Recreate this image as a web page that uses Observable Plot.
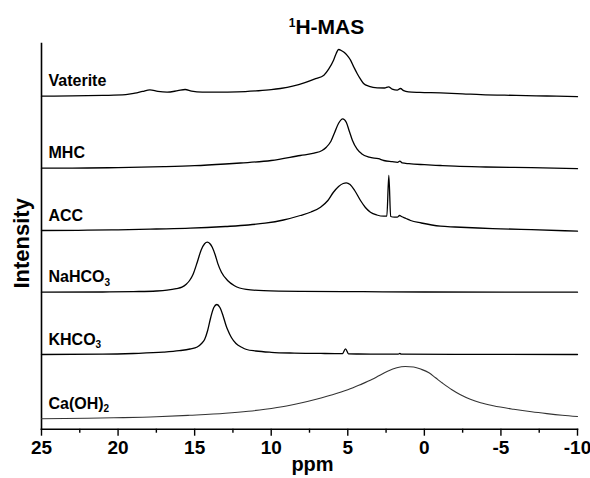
<!DOCTYPE html>
<html>
<head>
<meta charset="utf-8">
<script src="https://cdn.jsdelivr.net/npm/d3@7"></script>
<script src="https://cdn.jsdelivr.net/npm/@observablehq/plot@0.6"></script>
<style>
  html, body { margin: 0; padding: 0; background: #fff; }
  #chart svg { display: block; }
</style>
</head>
<body>
<div id="chart"></div>
<script>
// ---- Data ----
const ppmTicks = [25, 20, 15, 10, 5, 0, -5, -10];
const minorTicks = [22.5, 17.5, 12.5, 7.5, 2.5, -2.5, -7.5];
const samples = ["Ca(OH)2", "KHCO3", "NaHCO3", "ACC", "MHC", "Vaterite"];
// vertical stacking offsets (a.u.)
const offsets = [0, 64.3, 126.6, 188.3, 250.6, 322.6];

// [ppm, intensity a.u.]
const vateriteSpectrum = [[25,0],[23,0.3],[21,0.8],[19.5,1.5],[18.9,3],[18.4,4.8],[17.92,6.4],[17.4,4.8],[16.8,4],[16.1,5.5],[15.62,6.7],[15.2,5],[14.5,4],[13.5,4],[12.2,4.3],[11,5.3],[10,6.5],[9.4,7.7],[8.6,10],[7.8,13.5],[7.1,17.5],[6.56,21],[6.25,27],[5.93,36],[5.75,43],[5.6,46.7],[5.4,45.5],[5.15,42.7],[4.95,39],[4.82,36],[4.6,29],[4.39,22.7],[4.17,17],[3.97,12.7],[3.6,9.8],[3.08,8.3],[2.6,8.2],[2.34,9.3],[2.1,7],[1.77,6],[1.56,7.7],[1.35,5.5],[1.04,4.3],[0.3,3.8],[-1.05,3.3],[-2.5,2.4],[-3.7,1.5],[-6,0.8],[-8,0.2],[-10,-0.5]];
const mhcSpectrum = [[25,0],[22,0.2],[20,0.6],[17,1.5],[15,2.5],[13,4.2],[12,5.2],[10,7.7],[8.1,12.7],[7.2,15],[6.68,17.7],[6.4,21],[6.1,27],[5.85,36],[5.6,45],[5.33,49.4],[5.1,46],[4.9,37],[4.7,28],[4.39,19],[4.1,14.5],[3.6,11],[3.0,9.5],[2.65,7.7],[2.1,6.5],[1.75,5.8],[1.6,7],[1.45,5.3],[1.0,4.5],[0,3.5],[-1.05,2.7],[-2,2],[-4,1.2],[-7,0.5],[-10,-0.5]];
const accSpectrum = [[25,0],[22,0.3],[20,0.7],[17.5,1.5],[15.3,2.3],[13,4],[11.5,5.5],[10.4,7.3],[9.2,10.5],[8.1,15],[7.4,18.5],[6.78,23.3],[6.3,30],[5.95,38],[5.6,44],[5.3,47],[5.1,47.7],[4.85,46],[4.55,40],[4.17,30],[3.85,23],[3.52,18.3],[3.1,15.5],[2.65,14.3],[2.45,14.4],[2.32,55],[2.2,14],[1.95,13.3],[1.77,13.3],[1.62,15],[1.5,14],[1.2,12],[0.9,10],[0.2,7.5],[-1.05,4.3],[-2,3.5],[-3.5,2.5],[-5,1.7],[-7,0.8],[-10,-0.7]];
const nahco3Spectrum = [[25,0],[21,0.2],[19,0.6],[17.5,1.2],[16.8,2],[16.2,3.5],[15.83,5],[15.55,8],[15.33,11.7],[15.1,18],[14.83,30],[14.58,42],[14.35,48.5],[14.17,50],[14.0,48.5],[13.85,45],[13.65,37],[13.48,28.3],[13.25,20],[12.85,11.7],[12.4,6.5],[11.63,2.8],[10.5,1.5],[8,0.8],[4,0.5],[0,0.2],[-10,0]];
const khco3Spectrum = [[25,0],[21,0.3],[19,1],[17.05,2.3],[16,3.8],[15.3,5.5],[14.83,7.5],[14.55,11],[14.35,15],[14.15,24],[13.95,37],[13.75,47],[13.55,50],[13.35,47],[13.15,39],[12.95,29],[12.85,25],[12.6,17],[12.3,11],[11.9,7],[11.6,5],[11,3.5],[10,2.2],[8.5,1.4],[6.5,1],[5.35,0.9],[5.15,5.7],[4.95,0.6],[4.3,0.5],[2.5,0.4],[1.7,0.4],[1.6,1],[1.5,0.3],[-2,0.2],[-10,0]];
const caoh2Spectrum = [[25,0],[22,0.5],[20.27,1],[17.5,2],[15.33,3.5],[13,5.5],[11.5,7.5],[10.4,9.5],[9,12.8],[8,16],[7,19.8],[6,24],[5,29],[4.2,34],[3.4,39.5],[2.97,43],[2.4,47.5],[1.8,51],[1.25,52.3],[0.7,51.8],[0.2,49.5],[-0.3,46],[-0.73,41],[-1.2,35.5],[-1.8,29],[-2.36,24],[-3,19.5],[-3.67,16],[-4.5,13],[-5.84,9.5],[-7,7],[-8,5.2],[-9,3.6],[-10,2.3]];

const spectra = [caoh2Spectrum, khco3Spectrum, nahco3Spectrum, accSpectrum, mhcSpectrum, vateriteSpectrum];

// ---- Build table ----
const rows = samples.flatMap((s, i) =>
  spectra[i].map(([ppm, h]) => ({sample: s, ppm, y: offsets[i] + h}))
    .sort((a, b) => a.ppm - b.ppm));
const labels = samples.map((s, i) => ({sample: s, y: offsets[i]}));

const font = "'Liberation Sans', Arial, Helvetica, sans-serif";

const chart = Plot.plot({
  width: 590,
  height: 478,
  marginLeft: 41,
  marginRight: 13,
  marginTop: 43,
  marginBottom: 49.3,
  x: {domain: [25, -10], axis: null, label: null},
  y: {domain: [-10.4, 375.3], axis: null, label: null},
  style: {fontFamily: font, background: "white", color: "black", overflow: "visible"},
  marks: [
    Plot.axisX(minorTicks, {tickSize: 4, text: null, label: null, strokeWidth: 1.4}),
    Plot.axisX(ppmTicks, {tickSize: 7, tickPadding: 4, fontSize: 19, fontWeight: "bold", label: null, tickFormat: d => String(d), strokeWidth: 1.4}),
    Plot.frame({anchor: "left", strokeWidth: 1.6}),
    Plot.frame({anchor: "bottom", strokeWidth: 1.6}),
    Plot.line(rows.filter(d => d.sample !== "Ca(OH)2"), {x: "ppm", y: "y", z: "sample", curve: "monotone-x", stroke: "black", strokeWidth: 1.3}),
    Plot.line(rows.filter(d => d.sample === "Ca(OH)2"), {x: "ppm", y: "y", z: "sample", curve: "monotone-x", stroke: "#333", strokeWidth: 1.1}),
    Plot.text(labels, {x: () => 25, y: "y", text: "sample", textAnchor: "start", lineAnchor: "bottom", dx: 7, dy: -10, fontSize: 16, fontWeight: "bold"}),
    Plot.text(["1H-MAS"], {frameAnchor: "top", textAnchor: "middle", lineAnchor: "bottom", dx: 17, dy: -9.7, fontSize: 21, fontWeight: "bold"}),
    Plot.text(["ppm"], {frameAnchor: "bottom", textAnchor: "middle", lineAnchor: "bottom", dx: 3, dy: 42, fontSize: 20, fontWeight: "bold"}),
    Plot.text(["Intensity"], {frameAnchor: "left", textAnchor: "middle", rotate: -90, dx: -20, dy: 7, fontSize: 22, fontWeight: "bold"})
  ]
});

// rich text: sub/superscripts
const rich = {
  "1H-MAS": [["1", "sup"], ["H-MAS", ""]],
  "NaHCO3": [["NaHCO", ""], ["3", "sub"]],
  "KHCO3": [["KHCO", ""], ["3", "sub"]],
  "Ca(OH)2": [["Ca(OH)", ""], ["2", "sub"]]
};
d3.select(chart).selectAll("text").each(function() {
  const t = this.textContent;
  if (!rich[t]) return;
  const el = d3.select(this);
  el.text(null);
  let shift = 0;
  for (const [s, kind] of rich[t]) {
    const ts = el.append("tspan").text(s);
    if (kind === "sup") { ts.attr("font-size", 12).attr("dy", -6.6); shift = -6.6; }
    else if (kind === "sub") { ts.attr("font-size", 10).attr("dy", 3.5 - shift); shift = 3.5; }
    else if (shift !== 0) { ts.attr("dy", -shift); shift = 0; }
  }
});

document.getElementById("chart").append(chart);
</script>
</body>
</html>
